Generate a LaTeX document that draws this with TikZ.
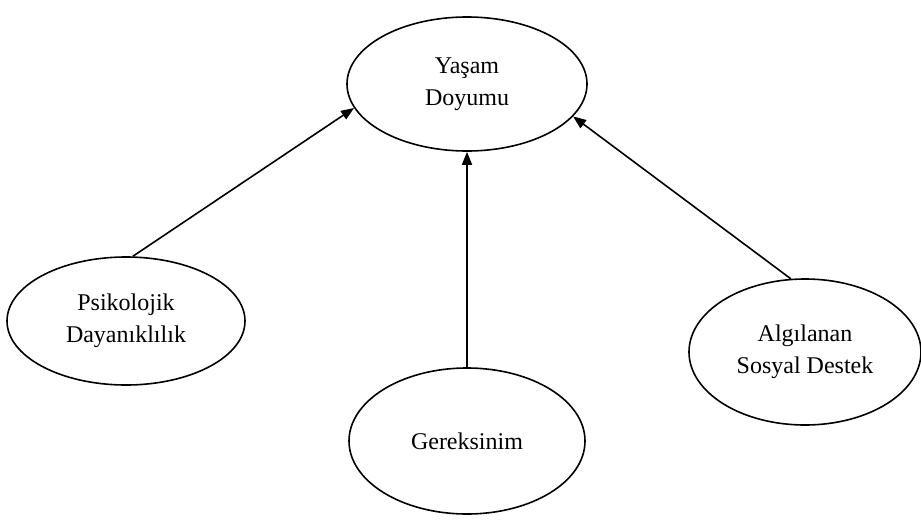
\documentclass[tikz,border=0pt]{standalone}
\usepackage{fontspec}
\setmainfont{Liberation Serif}
\usetikzlibrary{shapes.geometric,arrows.meta}
\begin{document}
\begin{tikzpicture}[x=1pt,y=-1pt,
  concept/.style={ellipse,draw=black,line width=1.6pt,inner sep=0pt,align=center,
    font=\fontsize{24}{32}\selectfont},
  link/.style={line width=1.6pt,-{Triangle[length=13pt,width=10pt]}}]
  \useasboundingbox (0,0) rectangle (921,525);
  \node[concept,minimum width=240,minimum height=134] (ys) at (467,84) {Yaşam\\Doyumu};
  \node[concept,minimum width=238,minimum height=128] (pd) at (126,321) {Psikolojik\\Dayanıklılık};
  \node[concept,minimum width=236,minimum height=146] (gr) at (467,441) {Gereksinim};
  \node[concept,minimum width=232,minimum height=146] (asd) at (805,352) {Algılanan\\Sosyal Destek};
  \draw[link] (pd.84) -- (ys.192);
  \draw[link] (gr.north) -- (ys.south);
  \draw[link] (asd.101) -- (ys.343);
\end{tikzpicture}
\end{document}
